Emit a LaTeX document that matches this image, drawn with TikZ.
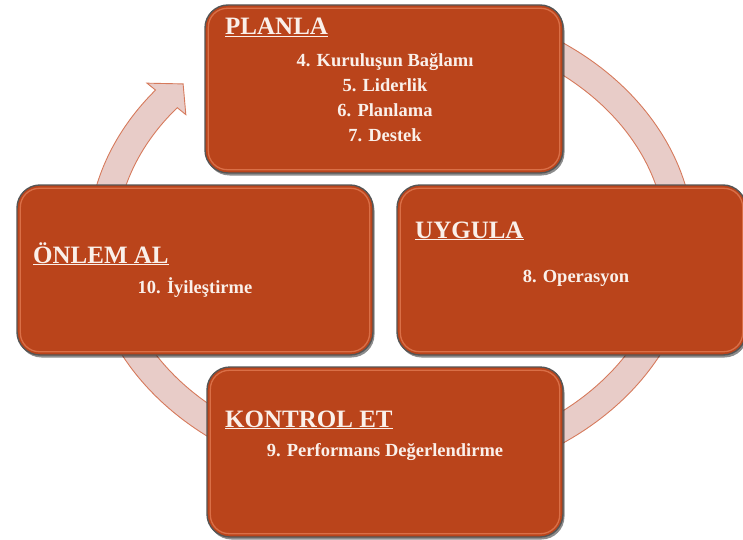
\documentclass[tikz,border=0pt]{standalone}
\usepackage{fontspec}
\setmainfont{Liberation Serif}
\usetikzlibrary{calc,shadows}
\definecolor{boxfill}{RGB}{186,68,27}
\definecolor{boxedge}{RGB}{85,85,85}
\definecolor{bevel}{RGB}{226,122,82}
\definecolor{ringfill}{RGB}{232,204,200}
\definecolor{ringedge}{RGB}{214,122,92}
\definecolor{txt}{RGB}{250,240,234}
\tikzset{
  box/.style={rectangle, rounded corners=23pt, fill=boxfill, draw=boxedge, line width=1.4pt,
    drop shadow={shadow xshift=1.5pt, shadow yshift=-2.5pt, fill=black, opacity=0.45}},
  bevelline/.style={draw=bevel, line width=1.3pt, rounded corners=19pt, opacity=0.8},
  ring/.style={fill=ringfill, draw=ringedge, line width=0.9pt},
  title/.style={text=txt, font=\bfseries\fontsize{25}{28}\selectfont, inner sep=0pt},
  body/.style={text=txt, font=\bfseries\fontsize{18.5}{25}\selectfont, align=center, inner sep=0pt}
}
\begin{document}
\begin{tikzpicture}[x=1pt,y=1pt]
\useasboundingbox (0,0) rectangle (743,539);
\begin{scope}
\clip (0,0) rectangle (743,539);
% cycle ring arrow
\coordinate (c) at (391,296);
\filldraw[ring] ($(c)+(70:303pt and 243pt)$)
  arc[start angle=70, end angle=-219, x radius=303pt, y radius=243pt]
  -- ($(c)+(141:314pt and 254pt)$)
  -- ($(c)+(136:289pt and 229pt)$)
  -- ($(c)+(141:264pt and 204pt)$)
  -- ($(c)+(141:275pt and 215pt)$)
  arc[start angle=-219, end angle=70, x radius=275pt, y radius=215pt]
  -- cycle;
% boxes
\node[box, minimum width=358pt, minimum height=168pt] (plan) at (384,450) {};
\node[box, minimum width=356pt, minimum height=170pt] (onlem) at (195,269) {};
\node[box, minimum width=349pt, minimum height=170pt] (uygula) at (571.5,269) {};
\node[box, minimum width=356pt, minimum height=170pt] (kontrol) at (385,87) {};
\foreach \b in {plan,onlem,uygula,kontrol}{
  \draw[bevelline] ([shift={(4pt,4pt)}]\b.south west) rectangle ([shift={(-4pt,-4pt)}]\b.north east);
}
\end{scope}
% texts
\node[title, anchor=base west] (tplan) at (225,504) {\underline{PLANLA}};
\node[body] (bplan) at (385,441) {4. Kuruluşun Bağlamı\\5. Liderlik\\6. Planlama\\7. Destek};
\node[title, anchor=base west] (tonlem) at (33,276) {\underline{ÖNLEM AL}};
\node[body] (bonlem) at (195,251) {10. İyileştirme};
\node[title, anchor=base west] (tuygula) at (415,301) {\underline{UYGULA}};
\node[body] (buygula) at (576,261) {8. Operasyon};
\node[title, anchor=base west] (tkontrol) at (225,112) {\underline{KONTROL ET}};
\node[body] (bkontrol) at (385,87) {9. Performans Değerlendirme};
\end{tikzpicture}
\end{document}
